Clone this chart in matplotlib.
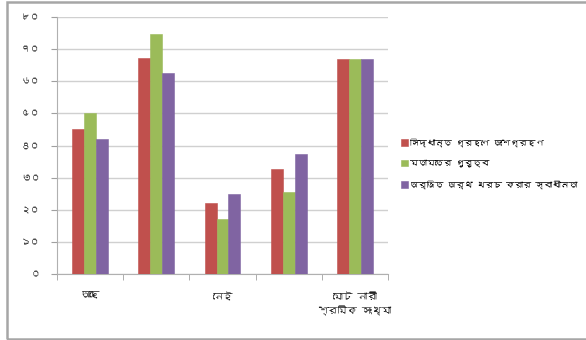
import numpy as np
import matplotlib
matplotlib.use("Agg")
import matplotlib.pyplot as plt
from matplotlib import font_manager
from matplotlib.patches import Rectangle
from fontTools.ttLib import TTFont

# data: counts (আছে / নেই), their shares of the total, and the total
categories = ["আছে", "", "নেই", "", "মোট নারী\nশ্রমিক সংখ্যা"]
series_names = ["সিদ্ধান্ত গ্রহণে অংশগ্রহণ", "মতামতের গুরুত্ব", "অর্জিত অর্থ খরচ করার স্বাধীনতা"]
decision = [45, 67.2, 22, 32.8, 67]
opinion = [50, 74.6, 17, 25.4, 67]
spending = [42, 62.7, 25, 37.3, 67]
yticks = [0, 10, 20, 30, 40, 50, 60, 70, 80]
ytick_labels = ["০", "১০", "২০", "৩০", "৪০", "৫০", "৬০", "৭০", "৮০"]
colors = ["#C0504D", "#9BBB59", "#8064A2"]


def find_bengali_font():
    for f in font_manager.fontManager.ttflist:
        try:
            cmap = TTFont(f.fname, fontNumber=0, lazy=True).getBestCmap()
        except Exception:
            continue
        if cmap and 0x0986 in cmap and 0x09CD in cmap:
            return f.name
    return None


bn = find_bengali_font()
plt.rcParams["font.family"] = ([bn] if bn else []) + ["DejaVu Sans"]

fig = plt.figure(figsize=(5.86, 3.4), dpi=100)
ax = fig.add_axes([0.0973, 0.194, 0.5649, 0.756])

x = np.arange(len(categories))
w = 0.18
for i, (vals, c, name) in enumerate(zip([decision, opinion, spending], colors, series_names)):
    ax.bar(x + (i - 1) * w, vals, w, color=c, edgecolor=c, linewidth=0.4, label=name, zorder=3)

ax.set_xlim(-0.5, len(categories) - 0.5)
ax.set_ylim(0, 80)
ax.set_yticks(yticks)
ax.set_yticklabels(ytick_labels, fontsize=7, color="#404040")
ax.set_xticks(x)
ax.set_xticklabels(categories, fontsize=7, color="#202020", linespacing=1.6)
ax.set_xticks(np.arange(-0.5, len(categories)), minor=True)
ax.tick_params(axis="x", which="major", length=0, pad=13)
ax.tick_params(axis="x", which="minor", length=4, color="#a0a0a0")
ax.tick_params(axis="y", length=4, color="#a0a0a0", pad=8)
ax.grid(axis="y", color="#d0d0d0", linewidth=1.0, zorder=0)
for s in ["top", "right"]:
    ax.spines[s].set_visible(False)
for s in ["left", "bottom"]:
    ax.spines[s].set_color("#b0b0b0")

ax.legend(loc="center left", bbox_to_anchor=(1.03, 0.43), frameon=False, fontsize=6,
          handlelength=0.8, handleheight=0.8, handletextpad=0.3, labelspacing=1.55,
          borderaxespad=0)

# chart frame
fig.patches.append(Rectangle((7 / 586, 1 / 340), 1.0, 337 / 340, transform=fig.transFigure,
                             fill=False, edgecolor="#a6a6a6", linewidth=1.8))

fig.savefig("out.png", dpi=100)
